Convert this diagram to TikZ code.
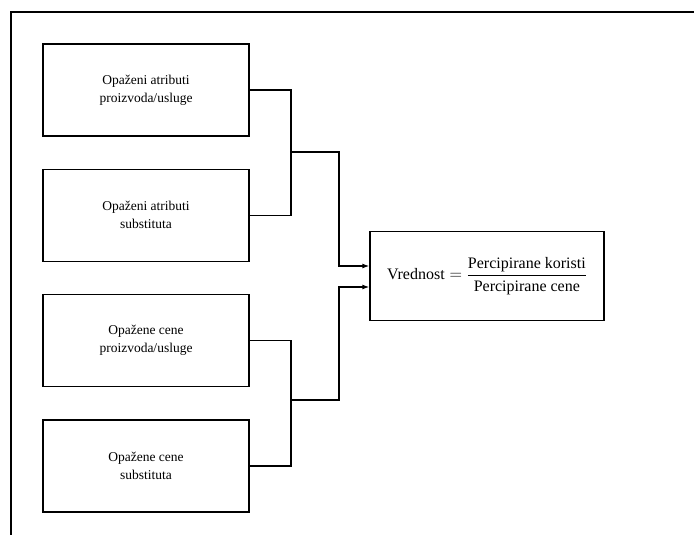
\documentclass[tikz,border=0pt]{standalone}
\usepackage{amsmath}
\usepackage{fontspec}
\setmainfont{Liberation Serif}
\usetikzlibrary{positioning,arrows.meta}

\begin{document}
\begin{tikzpicture}[x=1pt,y=-1pt,>={Latex[length=7pt,width=5pt]},
			line width=1.3pt,
			node distance=32pt,
			box/.style={
				draw,
				minimum width=206pt,
				minimum height=92pt,
				align=center,
				font=\fontsize{13.5}{18}\selectfont
			}]
			
			\useasboundingbox (0,0) rectangle (694,535);
			\draw (694,12) -- (11,12) -- (11,535);
			
			\node(attp)[box] at (146,90){Opaženi atributi\\proizvoda/usluge};
			
			\node(atts)[box,below=of attp]{Opaženi atributi\\substituta};
			
			\node(cenp)[box,below=of atts]{Opažene cene\\proizvoda/usluge};
			
			\node(cens)[box,below=of cenp]{Opažene cene\\substituta};
			
			\node(val)[draw,minimum width=234pt,minimum height=89pt,
				font=\fontsize{16}{19}\selectfont] at (487,276)
				{$\text{Vrednost} = \dfrac{\text{Percipirane koristi}}{\text{Percipirane cene}}$};
			
			\coordinate(ja) at (291,152);
			
			\coordinate(jc) at (291,400);
			
			\draw(attp.east) -| (ja) |- (atts.east);
			
			\draw(cenp.east) -| (jc) |- (cens.east);
			
			\draw[->](ja) -- (339,152) |- ([yshift=10pt]val.west);
			
			\draw[->](jc) -- (339,400) |- ([yshift=-11pt]val.west);
			
		\end{tikzpicture}
\end{document}
